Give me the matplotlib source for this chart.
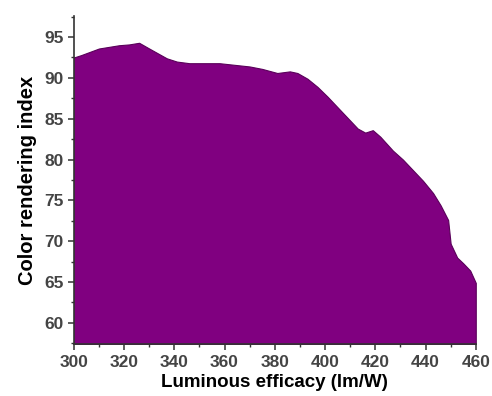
import matplotlib.pyplot as plt
from matplotlib.ticker import MultipleLocator

# Upper boundary of the filled region
efficacy = [300, 303, 310, 318, 322, 326, 330, 337, 341, 346, 358, 370, 375, 381,
            386, 389, 393, 397, 401, 405, 409, 413, 416, 419, 422, 427, 431,
            435, 439, 443, 446, 449, 450, 452.6, 455, 457.8, 460]
cri = [92.5, 92.8, 93.6, 94.0, 94.1, 94.3, 93.6, 92.4, 92.0, 91.8, 91.8, 91.4, 91.1, 90.6,
       90.8, 90.6, 89.9, 88.9, 87.7, 86.4, 85.1, 83.8, 83.3, 83.6, 82.8, 81.1, 80.0,
       78.7, 77.4, 75.9, 74.4, 72.6, 69.7, 68.0, 67.3, 66.4, 64.9]

plt.rcParams['font.family'] = ['Liberation Sans', 'DejaVu Sans']
plt.rcParams['font.weight'] = 'bold'

fig = plt.figure(figsize=(4.92, 3.96), dpi=100)
ax = fig.add_axes([0.150, 0.131, 0.817, 0.829])

ymin = 57.4
ax.fill_between(efficacy, ymin, cri, color='#800080', edgecolor='#5a005a', linewidth=0.8)

ax.set_xlim(300, 460)
ax.set_ylim(ymin, 97.6)
ax.xaxis.set_major_locator(MultipleLocator(20))
ax.xaxis.set_minor_locator(MultipleLocator(10))
ax.yaxis.set_major_locator(MultipleLocator(5))
ax.yaxis.set_minor_locator(MultipleLocator(2.5))
ax.set_yticks(range(60, 96, 5))

for s in ['top', 'right']:
    ax.spines[s].set_visible(False)
for s in ['left', 'bottom']:
    ax.spines[s].set_color('#333333')
    ax.spines[s].set_linewidth(1.2)

ax.tick_params(which='major', length=4, width=1.1, colors='#333333',
               labelsize=12.5, labelcolor='#444444')
ax.tick_params(which='minor', length=2.5, width=1, colors='#333333')

ax.set_xlabel('Luminous efficacy (lm/W)', fontsize=13.5, fontweight='bold', labelpad=3)
ax.set_ylabel('Color rendering index', fontsize=14.5, fontweight='bold', labelpad=5)

fig.savefig('out.png', dpi=100)
